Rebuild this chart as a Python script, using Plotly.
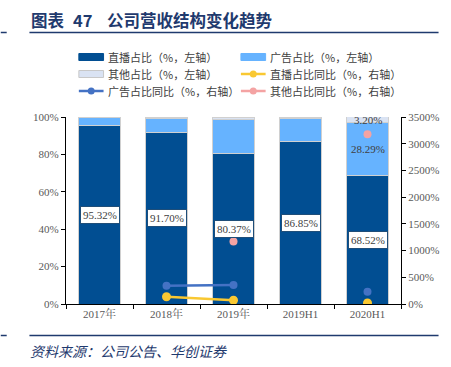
import plotly.graph_objects as go

categories = ["2017年", "2018年", "2019年", "2019H1", "2020H1"]
live_share = [95.32, 91.70, 80.37, 86.85, 68.52]
ad_share = [4.68, 7.60, 18.40, 12.50, 28.29]
other_share = [0.00, 0.70, 1.23, 0.65, 3.20]
live_yoy = [None, 135, 70, None, 20]
ad_yoy = [None, 342, 355, None, 230]
other_yoy = [None, None, 1172, None, 3179]
left_ticks = [0, 20, 40, 60, 80, 100]
right_ticks = [0, 500, 1000, 1500, 2000, 2500, 3000, 3500]

W, H = 451, 367
L, R, T, B = 66, 405, 117, 304

def px(x):
    return (x - L) / (R - L)

def py(y):
    return (B - y) / (B - T)

C_LIVE = "#014E92"
C_AD = "#66B3FF"
C_OTHER = "#DAE3F3"
C_LIVE_YOY = "#F9C832"
C_AD_YOY = "#4472C4"
C_OTHER_YOY = "#F4A3A3"
SERIF = "Liberation Serif, Noto Serif CJK SC, Noto Sans CJK SC"
SANS = "Noto Sans CJK SC, Noto Sans, sans-serif"
TXT = "#404040"
NAVY = "#1F3A6E"

fig = go.Figure()
edge = dict(color="#D0D0D0", width=1)
fig.add_trace(go.Bar(x=categories, y=live_share, marker=dict(color=C_LIVE, line=edge), name="直播占比（%，左轴）"))
fig.add_trace(go.Bar(x=categories, y=ad_share, marker=dict(color=C_AD, line=edge), name="广告占比（%，左轴）"))
fig.add_trace(go.Bar(x=categories, y=other_share, marker=dict(color=C_OTHER, line=edge), name="其他占比（%，左轴）"))
fig.add_trace(go.Scatter(x=categories, y=live_yoy, yaxis="y2", mode="lines+markers",
                         line=dict(color=C_LIVE_YOY, width=2.5), marker=dict(size=9, color=C_LIVE_YOY),
                         connectgaps=False, name="直播占比同比（%，右轴）"))
fig.add_trace(go.Scatter(x=categories, y=ad_yoy, yaxis="y2", mode="lines+markers",
                         line=dict(color=C_AD_YOY, width=2.5), marker=dict(size=8, color=C_AD_YOY),
                         connectgaps=False, name="广告占比同比（%，右轴）"))
fig.add_trace(go.Scatter(x=categories, y=other_yoy, yaxis="y2", mode="lines+markers",
                         line=dict(color=C_OTHER_YOY, width=2.5), marker=dict(size=8, color=C_OTHER_YOY),
                         connectgaps=False, name="其他占比同比（%，右轴）"))

annotations = []
# boxed labels on the live-streaming segment
for c, v in zip(categories, live_share):
    annotations.append(dict(x=c, y=v / 2, xref="x", yref="y", text=f"{v:.2f}%", showarrow=False,
                            font=dict(family=SERIF, size=11, color=TXT), bgcolor="white",
                            bordercolor="#1F4E79", borderwidth=1, borderpad=2))
# labels for the last bar's upper segments
last = categories[-1]
annotations.append(dict(x=last, y=live_share[-1] + ad_share[-1] / 2, xref="x", yref="y",
                        text=f"{ad_share[-1]:.2f}%", showarrow=False,
                        font=dict(family=SERIF, size=11, color=TXT)))
annotations.append(dict(x=last, y=live_share[-1] + ad_share[-1] + other_share[-1] / 2, xref="x", yref="y",
                        text=f"{other_share[-1]:.2f}%", showarrow=False,
                        font=dict(family=SERIF, size=11, color=TXT)))

# title
for txt, xpos in (("图表", 29), ("47", 71), ("公司营收结构变化趋势", 105)):
    annotations.append(dict(x=px(xpos), y=py(20), xref="paper", yref="paper", xanchor="left", yanchor="middle",
                            text=f"<b>{txt}</b>", showarrow=False, font=dict(family=SANS, size=16.5, color=NAVY)))
# footer
annotations.append(dict(x=px(28), y=py(351), xref="paper", yref="paper", xanchor="left", yanchor="middle",
                        text="<i>资料来源：公司公告、华创证券</i>", showarrow=False,
                        font=dict(family=SANS, size=14, color=NAVY)))

shapes = []
for yy in (32.5, 335.5):
    shapes.append(dict(type="line", xref="paper", yref="paper", x0=px(29), x1=px(443), y0=py(yy), y1=py(yy),
                       line=dict(color=NAVY, width=1.5)))
    shapes.append(dict(type="line", xref="paper", yref="paper", x0=px(0), x1=px(6), y0=py(yy), y1=py(yy),
                       line=dict(color=NAVY, width=1.5)))

# manual legend
legend_items = [
    ("bar", C_LIVE, "直播占比（%，左轴）", 79, 57),
    ("bar", C_AD, "广告占比（%，左轴）", 243, 57),
    ("bar", C_OTHER, "其他占比（%，左轴）", 79, 74),
    ("line", C_LIVE_YOY, "直播占比同比（%，右轴）", 243, 74),
    ("line", C_AD_YOY, "广告占比同比（%，右轴）", 79, 91),
    ("line", C_OTHER_YOY, "其他占比同比（%，右轴）", 243, 91),
]
for kind, col, label, x0, yc in legend_items:
    if kind == "bar":
        shapes.append(dict(type="rect", xref="paper", yref="paper", x0=px(x0), x1=px(x0 + 25),
                           y0=py(yc + 3.5), y1=py(yc - 3.5), fillcolor=col,
                           line=dict(color="#C8C8C8" if col == C_OTHER else col, width=1)))
    else:
        shapes.append(dict(type="line", xref="paper", yref="paper", x0=px(x0), x1=px(x0 + 25),
                           y0=py(yc), y1=py(yc), line=dict(color=col, width=2.5)))
        shapes.append(dict(type="circle", xref="paper", yref="paper", x0=px(x0 + 12.5 - 3.5),
                           x1=px(x0 + 12.5 + 3.5), y0=py(yc + 3.5), y1=py(yc - 3.5),
                           fillcolor=col, line=dict(color=col, width=0)))
    annotations.append(dict(x=px(x0 + 27), y=py(yc), xref="paper", yref="paper", xanchor="left",
                            yanchor="middle", text=label, showarrow=False,
                            font=dict(family=SANS, size=11, color=TXT)))

fig.update_layout(
    width=W, height=H,
    margin=dict(l=L, r=W - R, t=T, b=H - B, pad=0),
    paper_bgcolor="white", plot_bgcolor="white",
    barmode="stack", bargap=0.38,
    showlegend=False,
    xaxis=dict(type="category", showline=True, linecolor="black", linewidth=1.2,
               ticks="outside", tickson="boundaries", ticklen=4, tickcolor="black",
               tickfont=dict(family=SERIF, size=11, color="#595959"), showgrid=False),
    yaxis=dict(range=[0, 100], tickvals=left_ticks, ticktext=[f"{v}%" for v in left_ticks],
               showline=True, linecolor="black", linewidth=1.2, ticks="outside", ticklen=4,
               tickcolor="black", showgrid=False, zeroline=False,
               tickfont=dict(family=SERIF, size=11, color="#595959")),
    yaxis2=dict(range=[0, 3500], tickvals=right_ticks, ticktext=[f"{v}%" for v in right_ticks],
                overlaying="y", side="right", showline=True, linecolor="black", linewidth=1.2,
                ticks="outside", ticklen=4, tickcolor="black", showgrid=False, zeroline=False,
                tickfont=dict(family=SERIF, size=11, color="#595959")),
    annotations=annotations, shapes=shapes,
)

fig.write_html("out.html", config={"displayModeBar": False},
               post_script="document.body.style.margin='0';document.body.style.overflow='hidden';")
